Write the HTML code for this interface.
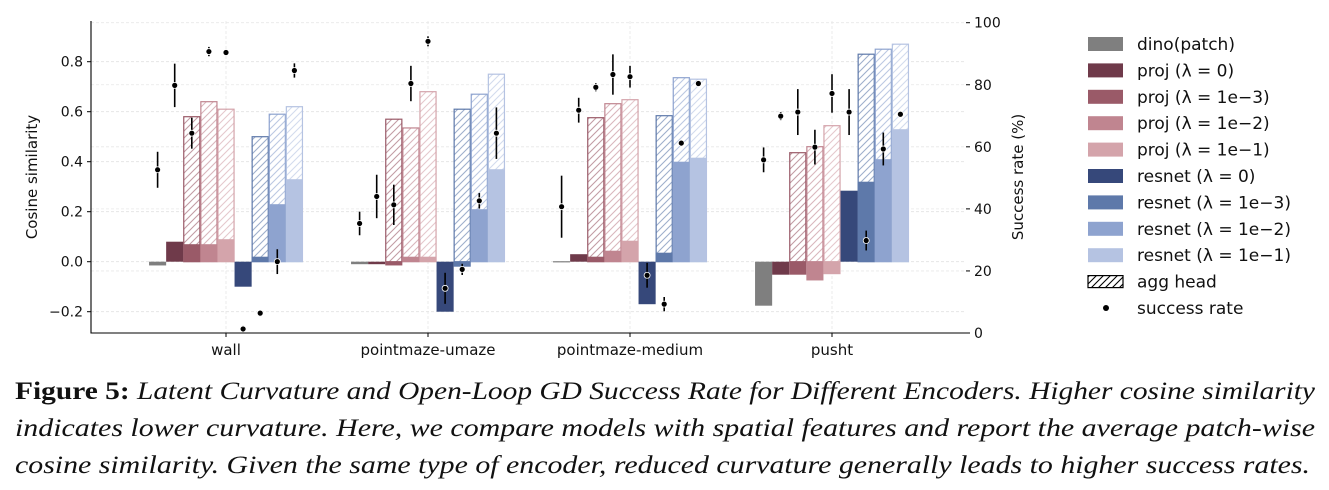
<!DOCTYPE html>
<html><head><meta charset="utf-8"><style>
body{margin:0;background:#fff;}
svg{display:block;font-family:"DejaVu Sans","Liberation Sans",sans-serif;}
</style></head><body>
<svg id="chart" width="1329" height="490" viewBox="0 0 1329 490" xmlns="http://www.w3.org/2000/svg">
<defs id="defs"></defs>
<g id="grid"></g><g id="bars"></g><g id="pts"></g><g id="axes"></g><g id="legend"></g>
<g id="caption" font-family="'Liberation Serif',serif" font-size="25" fill="#111">
<text x="15" y="399" textLength="1300" lengthAdjust="spacingAndGlyphs"><tspan font-weight="bold" font-style="normal">Figure 5:</tspan><tspan font-style="italic"> Latent Curvature and Open-Loop GD Success Rate for Different Encoders. Higher cosine similarity</tspan></text>
<text x="15" y="436" textLength="1300" lengthAdjust="spacingAndGlyphs" font-style="italic">indicates lower curvature. Here, we compare models with spatial features and report the average patch-wise</text>
<text x="15" y="473" textLength="1295" lengthAdjust="spacingAndGlyphs" font-style="italic">cosine similarity. Given the same type of encoder, reduced curvature generally leads to higher success rates.</text>
</g>
</svg>
<script>
const categories=["wall","pointmaze-umaze","pointmaze-medium","pusht"];
const seriesNames=["dino(patch)","proj (λ = 0)","proj (λ = 1e−3)","proj (λ = 1e−2)","proj (λ = 1e−1)","resnet (λ = 0)","resnet (λ = 1e−3)","resnet (λ = 1e−2)","resnet (λ = 1e−1)"];
const colors=["#7f7f7f","#6f3a4a","#9a5a68","#c08590","#d4a4ab","#36487a","#5e79aa","#8ea3cf","#b5c3e2"];
const cosWall=[-0.015,0.08,0.07,0.07,0.09,-0.10,0.02,0.23,0.33];
const cosUmaze=[-0.01,-0.01,-0.015,0.02,0.02,-0.20,-0.02,0.21,0.37];
const cosMedium=[0.002,0.03,0.02,0.044,0.084,-0.17,0.036,0.40,0.416];
const cosPusht=[-0.176,-0.052,-0.052,-0.075,-0.05,0.284,0.32,0.41,0.53];
const aggWall=[null,null,0.58,0.64,0.61,null,0.50,0.59,0.62];
const aggUmaze=[null,null,0.57,0.535,0.68,null,0.61,0.67,0.75];
const aggMedium=[null,null,0.576,0.632,0.648,null,0.584,0.736,0.73];
const aggPusht=[null,null,0.436,0.46,0.544,null,0.83,0.85,0.87];
const srWall=[52.6,79.8,64.4,90.7,90.4,1.3,6.4,23,84.6];
const errWall=[5.8,7,5,1.5,0,1,1,4,2.3];
const srUmaze=[35.3,44,41.3,80.4,94,14.4,20.5,42.6,64.4];
const errUmaze=[3.8,7,6.5,5.7,1.6,5,1.8,2.5,8.3];
const srMedium=[40.7,71.8,79.2,83.3,82.6,18.6,9.3,61.2,80.4];
const errMedium=[10,4,1.3,6.5,3.5,4,2.3,0,0];
const srPusht=[55.8,69.9,71.2,59.9,77.2,71.2,29.8,59.3,70.5];
const errPusht=[4,1.3,7.4,5.6,6.2,7.4,3.2,5.3,0];
const yTicks=[-0.2,0.0,0.2,0.4,0.6,0.8];
const y2Ticks=[0,20,40,60,80,100];

const cos=[cosWall,cosUmaze,cosMedium,cosPusht];
const agg=[aggWall,aggUmaze,aggMedium,aggPusht];
const sr=[srWall,srUmaze,srMedium,srPusht];
const err=[errWall,errUmaze,errMedium,errPusht];

const NS="http://www.w3.org/2000/svg";
const X0=91,X1=966,YT=21,YB=333;
const y=v=>261.7-v*250;
const y2=v=>333-v*3.103;
const gx=i=>226+i*202;
const BW=17.1;
const bx=(i,j)=>gx(i)+(j-4.5)*BW;
function mk(tag,attrs,parent){const e=document.createElementNS(NS,tag);for(const k in attrs)e.setAttribute(k,attrs[k]);parent.appendChild(e);return e;}
const defs=document.getElementById('defs'),grid=document.getElementById('grid'),bars=document.getElementById('bars'),pts=document.getElementById('pts'),axes=document.getElementById('axes'),legend=document.getElementById('legend');
colors.forEach((c,j)=>{const p=mk('pattern',{id:'h'+j,patternUnits:'userSpaceOnUse',width:7,height:7},defs);
mk('path',{d:'M-1,8 L8,-1 M-2,2 L2,-2 M5,9 L9,5',stroke:c,'stroke-width':1.1},p);});
const hp=mk('pattern',{id:'hk',patternUnits:'userSpaceOnUse',width:7,height:7},defs);
mk('path',{d:'M-1,8 L8,-1 M-2,2 L2,-2 M5,9 L9,5',stroke:'#000','stroke-width':1.1},hp);

yTicks.forEach(t=>{const l=mk('line',{x1:X0,x2:X1,y1:y(t),y2:y(t),stroke:'#e2e2e2','stroke-dasharray':'3,2','stroke-width':0.8},grid);});
y2Ticks.forEach(t=>{const l=mk('line',{x1:X0,x2:X1,y1:y2(t),y2:y2(t),stroke:'#e8e8e8','stroke-dasharray':'3,2','stroke-width':0.8},grid);});
categories.forEach((c,i)=>{const l=mk('line',{x1:gx(i),x2:gx(i),y1:YT,y2:YB,stroke:'#e6e6e6','stroke-dasharray':'3,2','stroke-width':0.8},grid);});

categories.forEach((c,i)=>{
 for(let j=0;j<9;j++){
  const a=agg[i][j];
  if(a!==null){
   const r=mk('rect',{x:bx(i,j)+0.5,y:y(a),width:BW-1,height:y(0)-y(a),fill:'#fff',stroke:colors[j],'stroke-width':1.2},bars);
   
   const r2=mk('rect',{x:bx(i,j)+0.5,y:y(a),width:BW-1,height:y(0)-y(a),fill:'url(#h'+j+')',opacity:0.6},bars);
   
  }
 }
 for(let j=0;j<9;j++){
  const v=cos[i][j];
  const r=mk('rect',{x:bx(i,j),y:Math.min(y(v),y(0)),width:BW,height:Math.max(Math.abs(y(v)-y(0)),1.2),fill:colors[j]},bars);
  
 }
 for(let j=0;j<9;j++){
  const cx=bx(i,j)+BW/2,s=sr[i][j],e=err[i][j];
  if(e>0){const l=mk('line',{x1:cx,x2:cx,y1:y2(s-e),y2:y2(s+e),stroke:'#000','stroke-width':1.6},pts);}
  const p=mk('circle',{cx:cx,cy:y2(s),r:3,fill:'#000',stroke:'#fff','stroke-width':0.8},pts);
  
 }
});

const ax=mk('path',{d:`M${X0},${YT} L${X0},${YB} L${X1},${YB}`,fill:'none',stroke:'#000','stroke-width':1.1},axes);

yTicks.forEach(t=>{mk('line',{x1:X0-4,x2:X0,y1:y(t),y2:y(t),stroke:'#000'},axes);
 const tx=mk('text',{x:X0-8,y:y(t)+5,'text-anchor':'end','font-size':14,fill:'#111'},axes);tx.textContent=t.toFixed(1).replace('-','−');
 });
y2Ticks.forEach(t=>{mk('line',{x1:X1,x2:X1+4,y1:y2(t),y2:y2(t),stroke:'#000'},axes);
 const tx=mk('text',{x:X1+8,y:y2(t)+5,'font-size':14,fill:'#111'},axes);tx.textContent=t;
 });
categories.forEach((c,i)=>{mk('line',{x1:gx(i),x2:gx(i),y1:YB,y2:YB+4,stroke:'#000'},axes);
 const tx=mk('text',{x:gx(i),y:355,'text-anchor':'middle','font-size':15,fill:'#111'},axes);tx.textContent=c;
 });
let t=mk('text',{x:0,y:0,transform:'translate(37,177) rotate(-90)','text-anchor':'middle','font-size':15,fill:'#111'},axes);t.textContent='Cosine similarity';

t=mk('text',{x:0,y:0,transform:'translate(1023,177) rotate(-90)','text-anchor':'middle','font-size':15,fill:'#111'},axes);t.textContent='Success rate (%)';


const names=seriesNames.concat(['agg head','success rate']);
names.forEach((n,k)=>{const yy=44+k*26.4;
 if(k<9){const r=mk('rect',{x:1088,y:yy-7,width:35,height:14,fill:colors[k]},legend);}
 else if(k===9){const r=mk('rect',{x:1088,y:yy-6,width:35,height:12,fill:'url(#hk)',stroke:'#000','stroke-width':1.2},legend);}
 else{const c=mk('circle',{cx:1106,cy:yy,r:3,fill:'#000'},legend);}
 const tx=mk('text',{x:1137,y:yy+6,'font-size':17,fill:'#111'},legend);tx.textContent=n;
 
});
</script>
</body></html>
